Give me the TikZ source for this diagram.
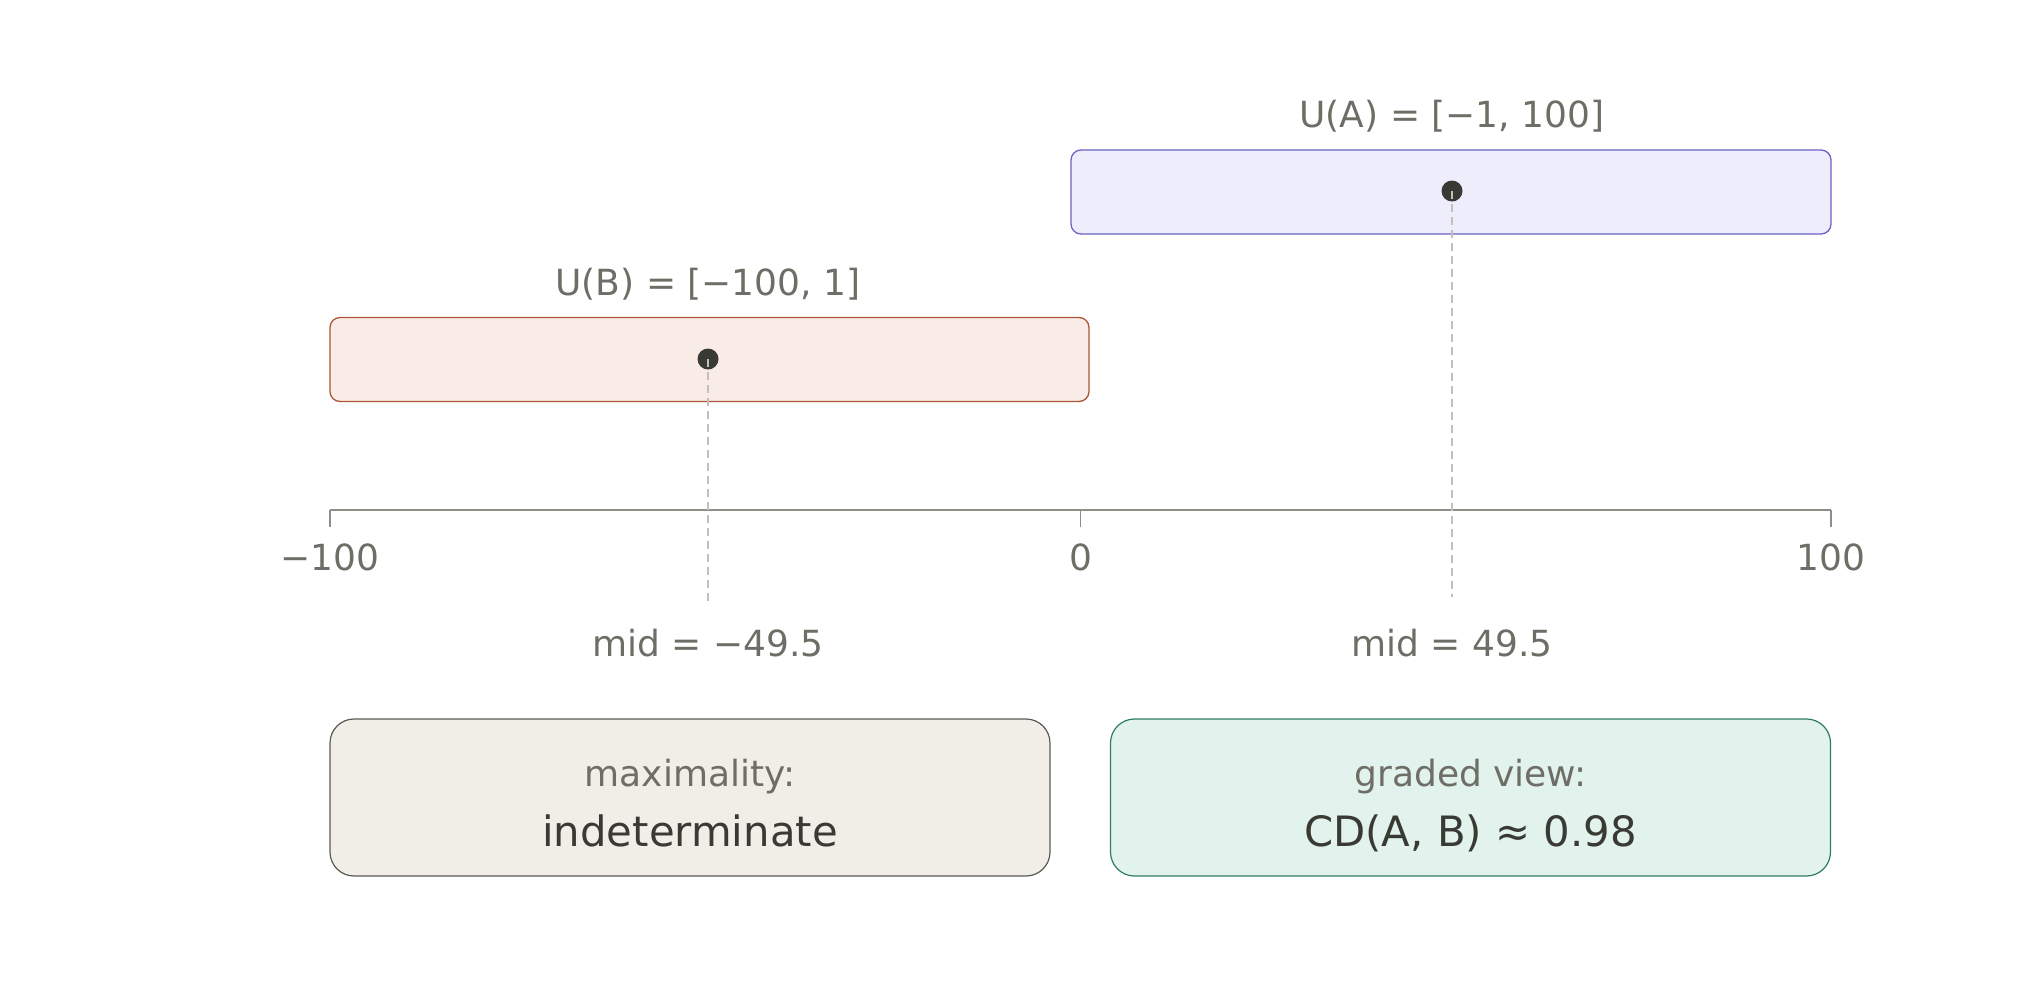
\documentclass[tikz,border=0pt]{standalone}
\usepackage{fontspec}
\setmainfont{DejaVu Sans}

\definecolor{inkgray}{HTML}{6E6E66}
\definecolor{inkdark}{HTML}{3A3A35}
\definecolor{axisgray}{HTML}{8E8E87}
\definecolor{dashgray}{HTML}{C4BFB9}
\definecolor{afill}{HTML}{EEEDFB}
\definecolor{aline}{HTML}{6B62C4}
\definecolor{bfill}{HTML}{F9ECE7}
\definecolor{bline}{HTML}{AE5436}
\definecolor{mfill}{HTML}{F1EEE8}
\definecolor{mline}{HTML}{5A5A55}
\definecolor{gfill}{HTML}{E1F3EC}
\definecolor{gline}{HTML}{2E7D62}

\tikzset{
    lbl/.style={text=inkgray, font=\fontsize{18}{22}\selectfont, anchor=base, inner sep=0pt},
    bigtxt/.style={text=inkdark, font=\fontsize{20.9}{25}\selectfont, anchor=base, inner sep=0pt},
    bar/.style={rounded corners=5pt, line width=0.65pt, minimum width=380pt, minimum height=42pt, inner sep=0pt},
    verdict/.style={rounded corners=12pt, line width=0.6pt, minimum width=360pt, minimum height=78.5pt, inner sep=0pt},
    middot/.style={circle, fill=inkdark, minimum size=10.5pt, inner sep=0pt},
    midline/.style={draw=dashgray, line width=0.75pt, dash pattern=on 4pt off 2.5pt},
}

\begin{document}
\begin{tikzpicture}[x=0.5pt, y=-0.5pt]
    \useasboundingbox (0, 0) rectangle (2040, 996);

    \node [bar, draw=aline, fill=afill] (boxA) at (1451, 192) {};
    \node [lbl] (labA) at (1452, 127) {U(A) = [−1, 100]};
    \node [middot] (dotA) at (1452, 191) {};

    \node [bar, draw=bline, fill=bfill, minimum width=379.5pt] (boxB) at (709.5, 359.5) {};
    \node [lbl] (labB) at (708, 295) {U(B) = [−100, 1]};
    \node [middot] (dotB) at (708, 359) {};

    \coordinate (axL) at (330, 510);
    \coordinate (axR) at (1831, 510);
    \draw [axisgray, line width=0.75pt] (axL) -- (axR);
    \foreach \x/\t/\n in {330/−100/tkL, 1080.5/0/tkM, 1831/100/tkR} {
        \draw [axisgray, line width=0.75pt] (\x, 510) -- (\x, 527);
        \node [lbl] (\n) at (\x, 570) {\t};
    }

    \coordinate (endA) at (1452, 597);
    \coordinate (endB) at (708, 602);
    \draw [midline] (dotA.center) -- (endA);
    \draw [midline] (dotB.center) -- (endB);

    \node [lbl] (midA) at (1452, 656) {mid = 49.5};
    \node [lbl] (midB) at (708, 656) {mid = −49.5};

    \node [verdict, draw=mline, fill=mfill] (maxbox) at (690, 797.5) {};
    \node [lbl] (maxhead) at (690, 786) {maximality:};
    \node [bigtxt] (maxval) at (690, 846) {indeterminate};

    \node [verdict, draw=gline, fill=gfill] (gradbox) at (1470.5, 797.5) {};
    \node [lbl] (gradhead) at (1470.5, 786) {graded view:};
    \node [bigtxt] (gradval) at (1470.5, 846) {CD(A, B) ≈ 0.98};
\end{tikzpicture}
\end{document}
